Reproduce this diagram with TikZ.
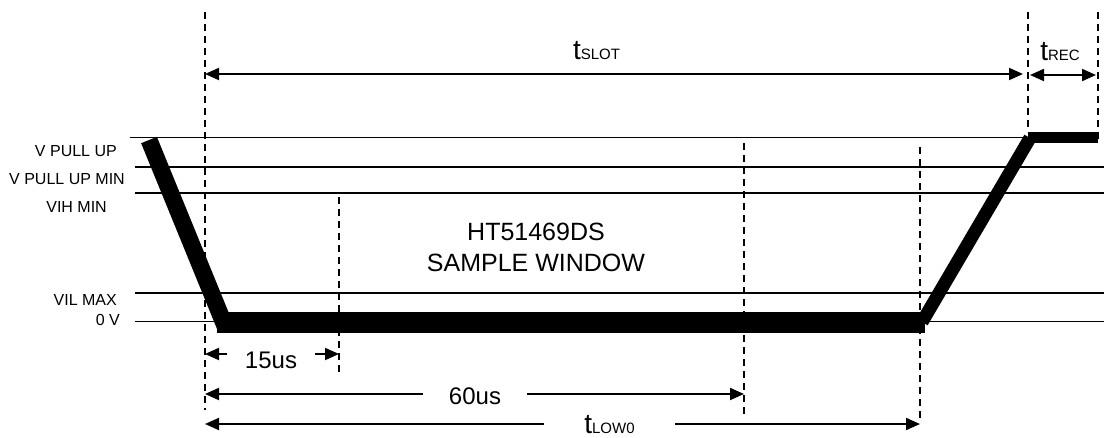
\documentclass[tikz,border=0pt]{standalone}
\usepackage{fontspec}
\setmainfont{Liberation Sans}
\usetikzlibrary{arrows.meta}

\newcommand{\tsub}[1]{t\raisebox{-0.5pt}{\fontsize{15}{15}\selectfont #1}}

\begin{document}
\begin{tikzpicture}[x=1pt, y=-1pt, >={Triangle[length=14pt, width=12pt]},
    level/.style={line width=1.6pt},
    guide/.style={line width=1.4pt, dash pattern=on 7pt off 5pt},
    dim/.style={line width=2pt},
    gap/.style={fill=white, inner ysep=0.5pt, anchor=base, font=\fontsize{24}{28}\selectfont}]
  \useasboundingbox (0,0) rectangle (1104,437);

  % voltage levels
  \draw[level] (130,137.5) -- (1028,137.5);
  \foreach \y in {166.7, 192.7, 292.7, 321.3}
    \draw[level] (135,\y) -- (1104,\y);
  \foreach \x/\y/\l [count=\i] in {117/151/V PULL UP, 125/179/V PULL UP MIN, 107/207/VIH MIN, 117/300/VIL MAX, 120/320/0 V}
    \node[anchor=east, inner sep=0pt, font=\fontsize{16}{19}\selectfont] (lvl\i) at (\x,\y) {\l};

  % timing guides
  \foreach \n/\x/\a/\b in {g0/205/12/410, g15/339/197/373, g60/744/143/415, gL/920/147/420, gR/1028/12/132, gE/1098/12/143} {
    \coordinate (\n t) at (\x,\a);
    \coordinate (\n b) at (\x,\b);
    \draw[guide] (\n t) -- (\n b);
  }

  % bus waveform
  \draw[line width=17pt] (149,140) -- (225,326);
  \draw[line width=21pt] (217,322.5) -- (925,322.5);
  \draw[line width=13pt] (922,322) -- (1030,138);
  \draw[line width=11pt] (1028,137.2) -- (1098,137.2);

  \node[align=center, font=\fontsize{25}{31}\selectfont] (win) at (536,247) {HT51469DS\\SAMPLE WINDOW};

  % slot and recovery
  \coordinate (s0) at (205,74);
  \coordinate (s1) at (1023,74);
  \coordinate (r0) at (1030,75);
  \coordinate (r1) at (1096,75);
  \draw[dim,<->] (s0) -- (s1);
  \draw[dim,<->] (r0) -- (r1);
  \node[anchor=base, inner sep=0pt, font=\fontsize{28}{30}\selectfont] (slot) at (596.5,59) {\tsub{SLOT}};
  \node[anchor=base, inner sep=0pt, font=\fontsize{28}{30}\selectfont] (rec) at (1060,60) {\tsub{REC}};

  % low time markers
  \coordinate (a0) at (205,354);
  \coordinate (a1) at (339,354);
  \coordinate (b0) at (205,394);
  \coordinate (b1) at (744,394);
  \coordinate (c0) at (205,424);
  \coordinate (c1) at (920,424);
  \draw[dim,<->] (a0) -- (a1);
  \draw[dim,<->] (b0) -- (b1);
  \draw[dim,<->] (c0) -- (c1);
  \node[gap, inner xsep=18pt] (t15) at (271,368) {15us};
  \node[gap, inner xsep=26pt] (t60) at (475,404) {60us};
  \node[gap, inner xsep=40pt, inner ysep=0pt, font=\fontsize{28}{30}\selectfont] (tlow) at (609.5,433) {\tsub{LOW0}};
\end{tikzpicture}
\end{document}
